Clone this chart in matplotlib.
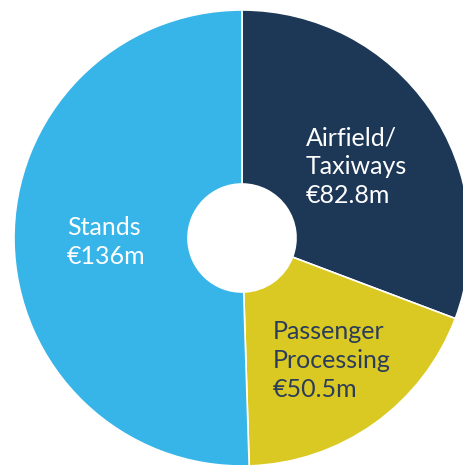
import matplotlib
matplotlib.use("Agg")
import matplotlib.pyplot as plt

labels = ["Airfield/\nTaxiways", "Passenger\nProcessing", "Stands"]
values = [82.8, 50.5, 136]
value_labels = ["€82.8m", "€50.5m", "€136m"]
colors = ["#1d3857", "#dbc923", "#38b5e8"]
text_colors = ["white", "#2b3d5a", "white"]

W, H = 463, 465
CX, CY, R = 242, 238, 228
HOLE = 54

# left edge / first baseline of each label block (pixels from top-left)
label_pos = [(306, 145), (273, 339), (67, 235)]
LINE_STEP = 29

fig = plt.figure(figsize=(W / 100, H / 100), dpi=100)
ax = fig.add_axes([0, 0, 1, 1])
ax.pie(
    values,
    colors=colors,
    startangle=90,
    counterclock=False,
    radius=1,
    wedgeprops=dict(width=1 - HOLE / R, edgecolor="white", linewidth=1.2),
)
ax.set_xlim(-CX / R, (W - CX) / R)
ax.set_ylim(-(H - CY) / R, CY / R)
ax.set_aspect("auto")
ax.axis("off")

for lab, val, col, (px, py) in zip(labels, value_labels, text_colors, label_pos):
    lines = lab.split("\n") + [val]
    for i, line in enumerate(lines):
        fig.text(px / W, 1 - (py + i * LINE_STEP) / H, line, ha="left", va="baseline",
                 fontsize=18, color=col, family="Lato")

fig.savefig("out.png", dpi=100)
